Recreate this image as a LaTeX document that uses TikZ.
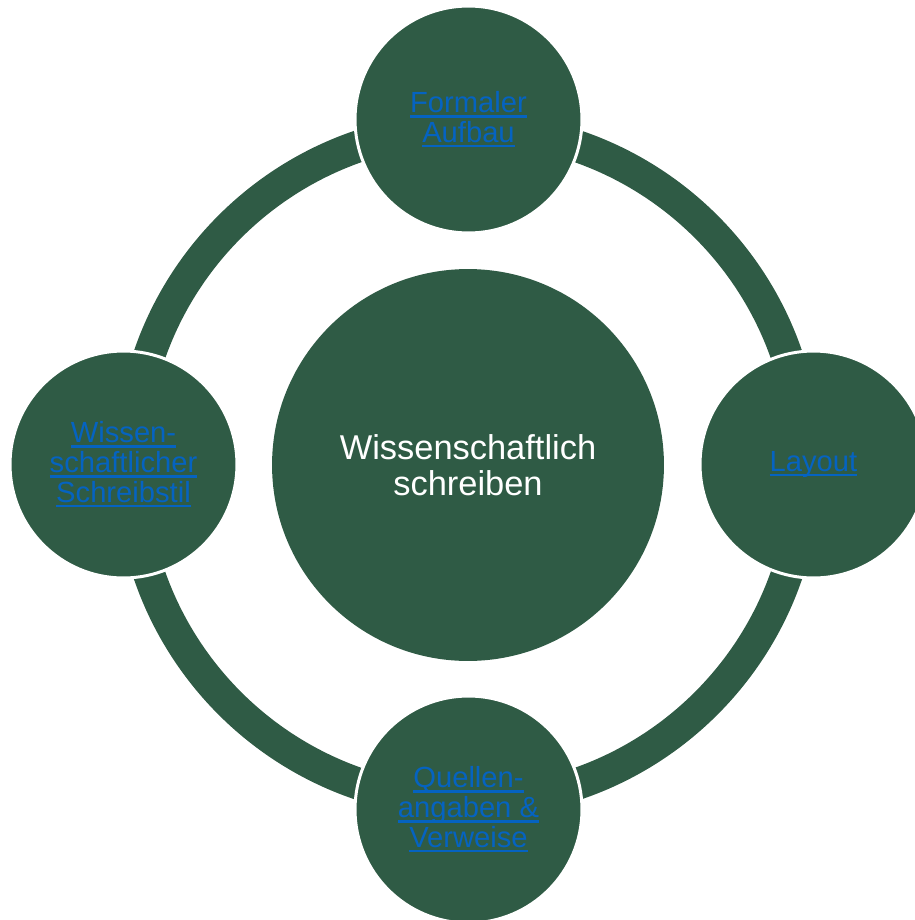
\documentclass[tikz,border=0pt]{standalone}
\usepackage{fontspec}
\setmainfont{Liberation Sans}
\usepackage{tikz}
\usetikzlibrary{positioning}
\definecolor{ringgreen}{HTML}{2F5B45}
\definecolor{linkblue}{HTML}{0563C1}
\newlength{\lnkwd}
\newcommand{\lnk}[1]{\settowidth{\lnkwd}{#1}\rlap{\rule[-2.8pt]{\lnkwd}{1.4pt}}#1}

\begin{document}
\begin{tikzpicture}[
  x=0.02cm, y=-0.02cm,
  ring/.style={draw=ringgreen, line width=0.64cm},
  hub/.style={circle, fill=ringgreen, minimum size=7.84cm, inner sep=0pt,
              align=center, text=white, font=\fontsize{19.6}{20.3}\selectfont},
  topic/.style={circle, fill=ringgreen, draw=white, line width=1.7pt,
                minimum size=4.54cm, inner sep=0pt, align=center,
                text=linkblue, font=\fontsize{16.6}{16.9}\selectfont}
]
\useasboundingbox (0,0) rectangle (915,920);

% Centre
\node[hub] (main) at (468,465) {Wissenschaftlich\\schreiben};

% Ring through the topics
\draw[ring] (main.center) circle (6.74cm);

% Topics
\node[topic] (aufbau) at (468.5,119.5) {\lnk{Formaler}\\\lnk{Aufbau}};
\node[topic] (layout) at (813.5,464.5) {\lnk{Layout}};
\node[topic] (quellen) at (468.5,809.5)
  {\lnk{Quellen-}\\\lnk{angaben \&}\\\lnk{Verweise}};
\node[topic] (stil) at (123.5,464.5)
  {\lnk{Wissen-}\\\lnk{schaftlicher}\\\lnk{Schreibstil}};

\end{tikzpicture}
\end{document}
